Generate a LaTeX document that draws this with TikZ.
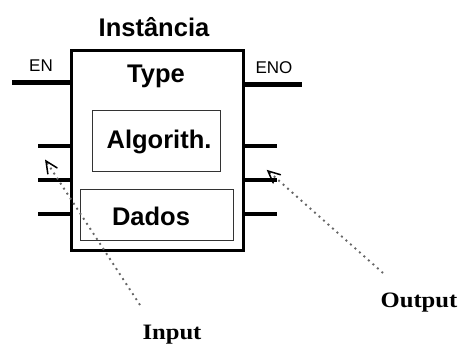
\documentclass[tikz,border=0pt]{standalone}
\usepackage{fontspec}
\setmainfont{Liberation Serif}
\setsansfont{Liberation Sans}
\usetikzlibrary{calc}
\begin{document}
\begin{tikzpicture}[x=1pt,y=-1pt,
  bigtxt/.style={font=\sffamily\bfseries\fontsize{25.5}{28}\selectfont, inner sep=0pt, anchor=base},
  smalltxt/.style={font=\sffamily\fontsize{17}{20}\selectfont, inner sep=0pt, anchor=base},
  serlab/.style={font=\rmfamily\bfseries\fontsize{22}{26}\selectfont, inner sep=0pt, anchor=base, xscale=1.12},
  fbbox/.style={draw, line width=3pt, minimum width=172pt, minimum height=200pt, inner sep=0pt},
  inbox/.style={draw=black!80, line width=1.6pt, inner sep=0pt},
  enpin/.style={line width=5pt},
  pin/.style={line width=3.5pt},
  note/.style={draw=black!60, line width=1.9pt, dash pattern=on 1.9pt off 4.1pt},
  notehead/.style={draw=black, solid, line width=1.5pt, line cap=round, line join=miter}
]
\useasboundingbox (0,0) rectangle (458,345);
% function block
\node[fbbox] (fb) at (157.5,150.5) {};
\node[inbox, minimum width=128pt, minimum height=61pt] (alg) at (156.5,141) {};
\node[inbox, minimum width=153pt, minimum height=51pt] (dad) at (157,215) {};
% texts
\node[bigtxt] (title) at (154,37) {Instância};
\node[bigtxt] (type) at (156,83) {Type};
\node[bigtxt] (algt) at (159,148) {Algorith.};
\node[bigtxt] (dadt) at (151,225) {Dados};
\node[smalltxt] (en) at (41,72) {EN};
\node[smalltxt] (eno) at (274,74) {ENO};
\node[serlab] (inp) at (172,339) {Input};
\node[serlab] (outp) at (419,307) {Output};
% pins
\coordinate (enA) at (12,83);  \coordinate (enB) at (fb.west |- enA);
\coordinate (enoB) at (302,85); \coordinate (enoA) at (fb.east |- enoB);
\draw[enpin] (enA) -- (enB);
\draw[enpin] (enoA) -- (enoB);
\foreach \i/\y in {1/146,2/180,3/214}{
  \coordinate (l\i) at (38,\y); \coordinate (r\i) at (277,\y);
  \draw[pin] (l\i) -- (fb.west |- l\i);
  \draw[pin] (fb.east |- r\i) -- (r\i);
}
% annotation arrows
\coordinate (inS) at (140,305); \coordinate (inT) at (46,161);
\coordinate (outS) at (383,273); \coordinate (outT) at (268,171);
\draw[note] (inS) -- (inT);
\draw[note] (outS) -- (outT);
\draw[notehead] ($(inT)!13pt!25:(inS)$) -- (inT) -- ($(inT)!13pt!-25:(inS)$);
\draw[notehead] ($(outT)!13pt!25:(outS)$) -- (outT) -- ($(outT)!13pt!-25:(outS)$);
\end{tikzpicture}
\end{document}
